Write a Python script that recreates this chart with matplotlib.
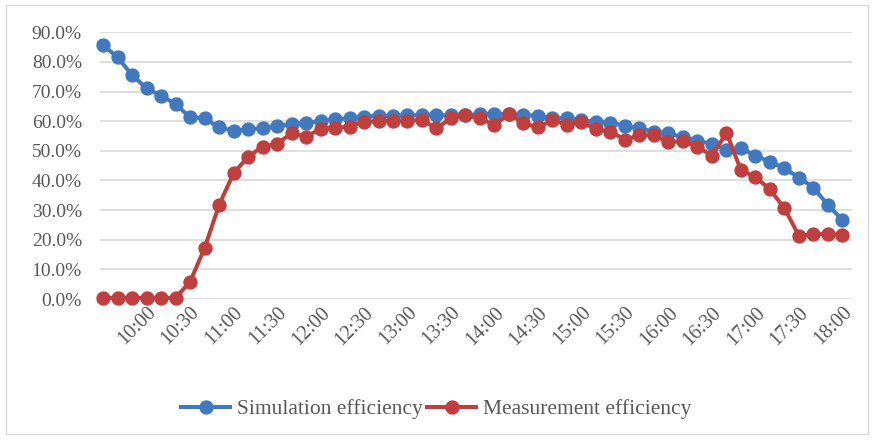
import matplotlib.pyplot as plt
from matplotlib.patches import Rectangle
from matplotlib.ticker import FuncFormatter, MultipleLocator
import pandas as pd

# 10-minute samples from 9:30 to 18:00
times = pd.date_range("09:30", "18:00", freq="10min").strftime("%H:%M").tolist()

simulation = [85.7, 81.6, 75.6, 71.1, 68.6, 65.8, 61.3, 61.0, 57.9, 56.8,
              57.3, 57.6, 58.3, 59.0, 59.3, 60.2, 60.6, 61.0, 61.5, 61.8,
              61.8, 62.0, 62.0, 62.0, 62.0, 62.2, 62.3, 62.5, 62.5, 62.1,
              61.8, 61.0, 61.0, 60.4, 59.8, 59.5, 58.5, 57.6, 56.5, 55.9,
              54.6, 53.4, 52.3, 50.3, 50.9, 48.3, 46.4, 44.1, 41.0, 37.6,
              31.7, 26.7]

measurement = [0.4, 0.4, 0.4, 0.4, 0.4, 0.4, 5.8, 17.1, 31.7, 42.4,
               48.0, 51.4, 52.4, 55.9, 54.8, 57.4, 57.7, 58.2, 59.8, 60.0,
               60.2, 60.2, 60.4, 57.6, 61.0, 62.0, 61.0, 58.7, 62.5, 59.3,
               57.9, 60.4, 58.7, 59.8, 57.3, 56.5, 53.8, 55.2, 55.3, 52.9,
               53.3, 51.4, 48.3, 56.1, 43.5, 41.1, 37.0, 30.6, 21.3, 21.9,
               21.9, 21.6]

blue = '#4178BE'
red = '#BE3F3D'
grey = '#595959'

plt.rcParams['font.family'] = ['Liberation Serif', 'DejaVu Serif']

fig = plt.figure(figsize=(8.72, 4.46), dpi=100)
ax = fig.add_axes([100 / 872, 1 - 299 / 446, 752 / 872, 266.7 / 446])

x = list(range(len(times)))
ax.plot(x, simulation, color=blue, lw=2.9, marker='o', ms=9.3,
        label='Simulation efficiency', clip_on=False, zorder=3)
ax.plot(x, measurement, color=red, lw=2.9, marker='o', ms=9.3,
        label='Measurement efficiency', clip_on=False, zorder=4)

ax.set_ylim(0, 90)
ax.set_xlim(-0.21, 51.66)
ax.yaxis.set_major_locator(MultipleLocator(10))
ax.yaxis.set_major_formatter(FuncFormatter(lambda v, p: f'{v:.1f}%'))
ax.grid(axis='y', color='#D9D9D9', lw=1.2)
ax.set_axisbelow(True)
for s in ax.spines.values():
    s.set_visible(False)

tick_pos = x[3::3]
ax.set_xticks(tick_pos)
ax.set_xticklabels([times[i] for i in tick_pos], rotation=45, ha='right',
                   rotation_mode='anchor')
ax.tick_params(axis='both', length=0, colors=grey)
ax.tick_params(axis='y', pad=13, labelsize=14)
ax.tick_params(axis='x', pad=3, labelsize=14.5)

ax.legend(loc='center', bbox_to_anchor=(0.5, 1 - 409 / 446),
          bbox_transform=fig.transFigure, ncol=2, frameon=False,
          fontsize=15.5, labelcolor=grey, handlelength=2.3,
          handletextpad=0.3, columnspacing=0.2)

fig.patches.append(Rectangle((6 / 872, 1 - 434 / 446), 862 / 872, 429 / 446,
                             transform=fig.transFigure, fill=False,
                             edgecolor='#D9D9D9', lw=1))

fig.savefig('out.png', dpi=100)
